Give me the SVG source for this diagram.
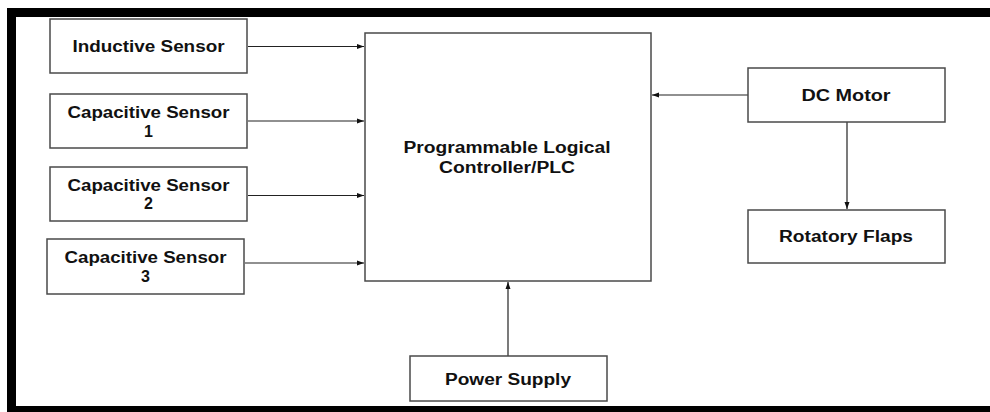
<svg xmlns="http://www.w3.org/2000/svg" width="990" height="412" viewBox="0 0 990 412">
<style>
.box{fill:#fff;stroke:#4a4a4a;stroke-width:1.5}
.t{font-family:"Liberation Sans",Arial,sans-serif;font-weight:700;font-size:16px;fill:#111;text-anchor:middle}
.c{stroke:#222;stroke-width:1.2;fill:none;marker-end:url(#ah)}
</style>
<defs>
<marker id="ah" markerWidth="8" markerHeight="6" refX="7" refY="3" orient="auto" markerUnits="userSpaceOnUse">
<path d="M0,0.5 L7,3 L0,5.5 Z" fill="#111"/>
</marker>
</defs>
<rect width="990" height="412" fill="#fff"/>
<g id="frame">
<rect x="7" y="8" width="983" height="9" fill="#000"/>
<rect x="7" y="8" width="9" height="404" fill="#000"/>
<rect x="7" y="406" width="983" height="6" fill="#000"/>
</g>
<g id="connectors">
<line class="c" x1="248" y1="46.5" x2="364" y2="46.5"/>
<line class="c" x1="248" y1="121" x2="364" y2="121"/>
<line class="c" x1="248" y1="195.5" x2="364" y2="195.5"/>
<line class="c" x1="245" y1="263" x2="364" y2="263"/>
<line class="c" x1="748" y1="95" x2="652" y2="95"/>
<line class="c" x1="847" y1="122" x2="847" y2="209"/>
<line class="c" x1="508" y1="356" x2="508" y2="282"/>
</g>
<g id="inductive">
<rect class="box" x="50" y="19" width="197" height="54"/>
<text class="t" x="148.5" y="52.3" textLength="152" lengthAdjust="spacingAndGlyphs">Inductive Sensor</text>
</g>
<g id="cap1">
<rect class="box" x="50" y="94" width="197" height="54"/>
<text class="t" x="148.5" y="118.3" textLength="162" lengthAdjust="spacingAndGlyphs">Capacitive Sensor</text>
<text class="t" x="148.5" y="136.7">1</text>
</g>
<g id="cap2">
<rect class="box" x="50" y="167" width="197" height="54"/>
<text class="t" x="148.5" y="190.5" textLength="162" lengthAdjust="spacingAndGlyphs">Capacitive Sensor</text>
<text class="t" x="148.5" y="209.3">2</text>
</g>
<g id="cap3">
<rect class="box" x="47" y="239" width="197" height="55"/>
<text class="t" x="145.5" y="263.3" textLength="162" lengthAdjust="spacingAndGlyphs">Capacitive Sensor</text>
<text class="t" x="145.5" y="281.7">3</text>
</g>
<g id="plc">
<rect class="box" x="365" y="33" width="286" height="248"/>
<text class="t" x="507" y="153.3" textLength="207" lengthAdjust="spacingAndGlyphs">Programmable Logical</text>
<text class="t" x="507" y="172.7" textLength="136" lengthAdjust="spacingAndGlyphs">Controller/PLC</text>
</g>
<g id="dcmotor">
<rect class="box" x="748" y="68" width="197" height="54"/>
<text class="t" x="846" y="101" textLength="89" lengthAdjust="spacingAndGlyphs">DC Motor</text>
</g>
<g id="flaps">
<rect class="box" x="748" y="210" width="197" height="53"/>
<text class="t" x="846" y="241.7" textLength="134" lengthAdjust="spacingAndGlyphs">Rotatory Flaps</text>
</g>
<g id="power">
<rect class="box" x="410" y="356" width="197" height="45"/>
<text class="t" x="508" y="385" textLength="126" lengthAdjust="spacingAndGlyphs">Power Supply</text>
</g>
</svg>
